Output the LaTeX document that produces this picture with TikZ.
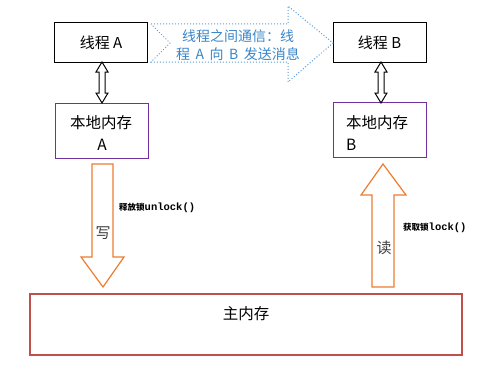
\documentclass[tikz,border=0pt]{standalone}
\usepackage{fontspec}
\setmainfont{Noto Sans CJK SC}
\newfontfamily\cjk{Noto Sans CJK SC}
\newfontfamily\monob{Liberation Mono}
\definecolor{boxpurple}{HTML}{7030A0}
\definecolor{arrorange}{HTML}{ED7D31}
\definecolor{memred}{HTML}{C0504D}
\definecolor{dotblue}{HTML}{5B9BD5}
\definecolor{txtblue}{HTML}{3A86C8}
\begin{document}
\begin{tikzpicture}[x=1pt,y=-1pt,
  thread/.style={draw=black,line width=1pt,minimum width=93pt,minimum height=39pt,inner sep=0pt,font=\cjk\fontsize{15}{16}\selectfont},
  local/.style={draw=boxpurple,line width=1pt,minimum width=93pt,minimum height=55pt,inner sep=0pt},
  blk/.style={draw=arrorange,line width=1.2pt,fill=white},
  dbl/.style={draw=black,line width=1pt,fill=white},
  lbl/.style={font=\cjk\fontsize{15.5}{16}\selectfont,inner sep=0pt},
  small/.style={font=\cjk\bfseries\fontsize{8.5}{9}\selectfont,inner sep=0pt,anchor=west}]
\useasboundingbox (0,0) rectangle (500,369);
% boxes
\node[thread] (ta) at (101,42.5) {线程 A};
\node[thread] (tb) at (379.5,42.5) {线程 B};
\node[local] (la) at (101.5,130.5) {};
\node[local] (lb) at (379.5,130) {};
\node[lbl] at (101,123) {本地内存};
\node[lbl] at (102,145) {A};
\node[lbl,anchor=west] at (346,123) {本地内存};
\node[lbl,anchor=west] at (346,145) {B};
\node[draw=memred,line width=1.2pt,minimum width=432pt,minimum height=61pt,inner sep=0pt] (mm) at (246,324.5) {};
\node[lbl] at (246,314) {主内存};
% dotted message arrow
\draw[dotblue,dotted,line width=1pt] (151,24) -- (288,24) -- (288,6) -- (333,43) -- (288,82) -- (288,62) -- (151,62) -- (170,43) -- cycle;
\node[font=\cjk\fontsize{14}{18}\selectfont,text=txtblue,align=center,inner sep=0pt] (msg) at (238,45) {线程之间通信：线\\程 \,A\, 向 \,B\, 发送消息};
% double arrows
\draw[dbl] (102,62) -- (108,72) -- (105,72) -- (105,93) -- (108,93) -- (102,103) -- (96,93) -- (99,93) -- (99,72) -- (96,72) -- cycle;
\draw[dbl] (381,62) -- (387,72) -- (384,72) -- (384,93) -- (387,93) -- (381,103) -- (375,93) -- (378,93) -- (378,72) -- (375,72) -- cycle;
% write arrow
\draw[blk] (92,164) -- (113,164) -- (113,257) -- (124,257) -- (103,287) -- (81,257) -- (92,257) -- cycle;
\node[font=\cjk\fontsize{15}{16}\selectfont,text=black!75,inner sep=0pt] at (103,233) {写};
\node[small] at (119,208) {释放锁{\monob\bfseries\fontsize{10.5}{12}\selectfont unlock()}};
% read arrow
\draw[blk] (383,164) -- (406,195) -- (394,195) -- (394,287) -- (372,287) -- (372,195) -- (361,195) -- cycle;
\node[font=\cjk\fontsize{15}{16}\selectfont,text=black!75,inner sep=0pt] at (384,248) {读};
\node[small] at (403,228) {获取锁{\monob\bfseries\fontsize{10.5}{12}\selectfont lock()}};
\end{tikzpicture}
\end{document}
